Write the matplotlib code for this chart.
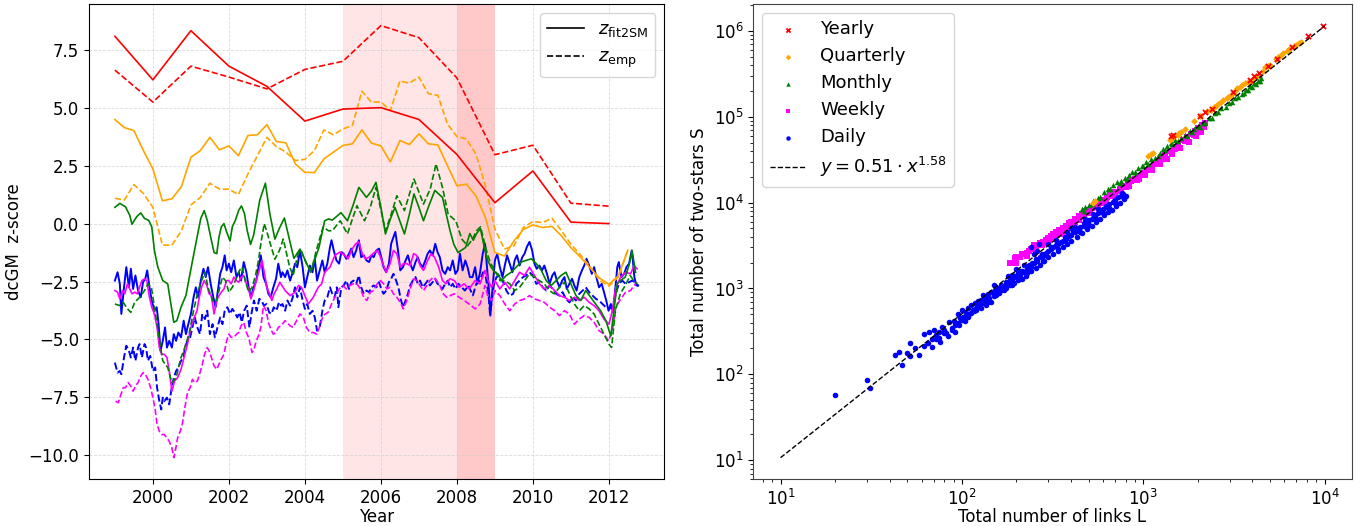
import matplotlib
matplotlib.use('Agg')
import matplotlib.pyplot as plt
from matplotlib.lines import Line2D
import numpy as np

# ---------------- left panel: dcGM z-scores ----------------
yearly_t = [1999, 2000, 2001, 2002, 2003, 2004, 2005, 2006, 2007, 2008, 2009, 2010, 2011, 2012]
yearly_fit = [8.08, 6.20, 8.32, 6.79, 5.92, 4.42, 4.94, 5.00, 4.49, 2.98, 0.90, 2.27, 0.06, 0.00]
yearly_emp = [6.62, 5.24, 6.79, 6.32, 5.81, 6.65, 7.00, 8.54, 8.02, 6.28, 2.97, 3.38, 0.88, 0.75]

quarterly_t = [1999 + 0.25 * i for i in range(55)]
quarterly_fit = [4.49, 4.14, 4.01, 3.15, 2.36, 0.98, 1.07, 1.59, 2.86, 3.15, 3.72, 3.18,
                 3.35, 2.93, 3.80, 3.83, 4.27, 3.54, 3.48, 2.57, 2.21, 2.20, 2.79, 3.08,
                 3.37, 3.44, 4.04, 3.47, 3.35, 2.66, 3.58, 3.41, 3.87, 3.44, 3.39, 2.50,
                 1.63, 1.70, 1.20, 0.26, -1.25, -1.40, -0.75, -0.25, -0.06, -0.17, -0.12, -0.53,
                 -1.04, -1.45, -1.90, -2.35, -2.62, -2.25, -1.15]
quarterly_emp = [1.09, 1.02, 1.68, 1.30, 0.70, -0.93, -0.93, -0.31, 0.80, 1.13, 1.74, 1.49,
                 1.48, 1.25, 2.14, 2.93, 3.72, 3.32, 3.08, 2.72, 2.77, 3.15, 4.04, 3.83,
                 4.08, 4.23, 5.71, 5.24, 5.24, 4.88, 6.15, 6.06, 6.32, 5.60, 5.53, 4.30,
                 3.75, 3.65, 3.00, 1.63, -0.24, -1.10, -0.96, -0.17, 0.09, 0.04, 0.23, -0.31,
                 -0.89, -1.35, -1.85, -2.45, -2.70, -2.30, -1.10]

monthly_t_fit = [1999.00, 1999.13, 1999.28, 1999.39, 1999.45, 1999.57, 1999.68, 1999.78, 1999.89, 1999.97,
                 2000.04, 2000.13, 2000.26, 2000.39, 2000.55, 2000.63, 2000.74, 2000.87, 2000.96, 2001.07,
                 2001.19, 2001.26, 2001.35, 2001.43, 2001.52, 2001.61, 2001.68, 2001.74, 2001.80, 2001.87,
                 2001.94, 2002.03, 2002.09, 2002.17, 2002.26, 2002.33, 2002.41, 2002.48, 2002.57, 2002.65,
                 2002.72, 2002.81, 2002.96, 2003.08, 2003.21, 2003.33, 2003.46, 2003.58, 2003.71, 2003.87,
                 2004.00, 2004.15, 2004.37, 2004.52, 2004.62, 2004.72, 2004.83, 2004.95, 2005.12, 2005.27,
                 2005.42, 2005.62, 2005.75, 2005.87, 2006.00, 2006.12, 2006.25, 2006.37, 2006.50, 2006.62,
                 2006.75, 2006.87, 2007.00, 2007.12, 2007.27, 2007.42, 2007.62, 2007.72, 2007.82, 2007.92,
                 2008.03, 2008.23, 2008.34, 2008.43, 2008.53, 2008.62, 2008.73, 2008.81, 2008.90, 2008.99,
                 2009.08, 2009.17, 2009.30, 2009.43, 2009.56, 2009.69, 2009.82, 2009.96, 2010.09, 2010.22,
                 2010.35, 2010.48, 2010.61, 2010.74, 2010.87, 2011.00, 2011.13, 2011.26, 2011.39, 2011.52,
                 2011.65, 2011.78, 2011.92, 2012.05, 2012.13, 2012.22, 2012.30, 2012.43, 2012.54, 2012.61,
                 2012.70]
monthly_fit = [0.70, 0.87, 0.72, 0.36, -0.03, 0.29, 0.46, 0.22, 0.14, -0.14,
               -1.16, -1.88, -2.46, -2.60, -4.26, -4.19, -3.61, -3.10, -2.31, -1.37,
               -0.36, 0.22, 0.56, 0.14, -0.58, -1.25, -1.30, -0.58, -0.14, 0.00,
               -0.36, -0.75, -0.14, 0.14, 0.58, 0.76, 0.43, -0.29, -0.90, -0.50,
               0.14, 1.00, 1.74, 0.40, -0.67, -0.20, 0.24, -0.60, -1.50, -1.10,
               -1.55, -2.10, -1.03, 0.12, 0.20, 0.15, 0.30, 0.47, 0.12, 0.80,
               1.56, 1.13, 1.40, 1.78, 0.70, -0.45, 0.20, 0.70, 0.10, -0.45,
               0.40, 1.28, 0.70, 0.12, 0.80, 1.43, 1.13, 0.40, -0.31, -0.90,
               -1.25, -1.03, -0.43, -0.72, -0.40, -0.22, -1.10, -1.59, -1.88, -2.10,
               -2.17, -2.46, -2.24, -2.10, -1.88, -1.66, -1.59, -1.52, -1.73, -2.02,
               -2.46, -2.67, -2.46, -2.24, -2.10, -2.60, -3.10, -3.32, -2.89, -3.18,
               -3.47, -3.76, -4.19, -4.85, -3.76, -2.60, -2.46, -2.31, -1.73, -1.16,
               -2.10]

monthly_t_emp = [1999.00, 1999.13, 1999.22, 1999.33, 1999.42, 1999.52, 1999.65, 1999.78, 1999.87, 1999.96,
                 2000.04, 2000.15, 2000.26, 2000.39, 2000.50, 2000.61, 2000.74, 2000.84, 2000.96, 2001.07,
                 2001.17, 2001.28, 2001.37, 2001.45, 2001.57, 2001.65, 2001.74, 2001.83, 2001.91, 2002.00,
                 2002.09, 2002.17, 2002.28, 2002.35, 2002.43, 2002.52, 2002.61, 2002.70, 2002.78, 2002.84,
                 2002.93, 2003.00, 2003.09, 2003.21, 2003.33, 2003.43, 2003.60, 2003.69, 2003.82, 2003.90,
                 2004.04, 2004.17, 2004.30, 2004.48, 2004.62, 2004.72, 2004.93, 2005.12, 2005.25, 2005.37,
                 2005.57, 2005.72, 2005.87, 2006.12, 2006.27, 2006.42, 2006.62, 2006.87, 2007.12, 2007.30,
                 2007.45, 2007.62, 2007.77, 2007.97, 2008.13, 2008.28, 2008.40, 2008.52, 2008.62, 2008.71,
                 2008.80, 2008.89, 2009.00, 2009.13, 2009.26, 2009.39, 2009.52, 2009.65, 2009.78, 2009.91,
                 2010.04, 2010.17, 2010.30, 2010.43, 2010.56, 2010.70, 2010.83, 2010.96, 2011.09, 2011.22,
                 2011.35, 2011.48, 2011.61, 2011.74, 2011.87, 2012.00, 2012.07, 2012.17, 2012.30, 2012.43,
                 2012.56, 2012.65, 2012.74]
monthly_emp = [-3.47, -3.54, -3.40, -3.68, -3.83, -3.40, -3.18, -2.89, -2.60, -2.75,
               -3.61, -4.77, -5.92, -6.21, -6.86, -6.65, -5.78, -5.35, -4.70, -3.76,
               -3.03, -2.46, -2.10, -2.75, -3.32, -3.40, -2.89, -2.31, -2.46, -2.96,
               -2.75, -2.46, -2.02, -1.88, -2.46, -2.96, -2.75, -2.24, -1.59, -0.87,
               0.00, -0.36, -0.87, -1.54, -1.16, -0.67, -1.88, -2.24, -1.30, -1.16,
               -1.73, -2.02, -1.16, -0.14, -0.31, -0.31, 0.12, -0.45, 0.20, 0.77,
               0.12, 0.70, 1.56, -0.31, 0.40, 1.20, 0.56, 1.92, 0.84, 1.50,
               2.57, 1.56, 0.40, 0.12, -0.67, -0.96, -0.70, -0.30, -0.14, -0.72,
               -1.30, -1.73, -2.02, -2.46, -2.46, -2.60, -2.89, -2.75, -2.46, -2.17,
               -2.31, -2.46, -2.60, -2.89, -3.03, -2.75, -2.53, -3.03, -3.47, -3.76,
               -3.54, -3.68, -3.90, -4.34, -4.77, -5.20, -5.35, -3.76, -3.03, -2.67,
               -2.24, -2.46, -2.60]

weekly_t_fit = [1999.00, 1999.07, 1999.13, 1999.20, 1999.26, 1999.33, 1999.39, 1999.45, 1999.52, 1999.59,
                1999.65, 1999.71, 1999.78, 1999.84, 1999.91, 1999.97, 2000.04, 2000.11, 2000.17, 2000.23,
                2000.30, 2000.37, 2000.43, 2000.50, 2000.57, 2000.65, 2000.74, 2000.83, 2000.91, 2001.00,
                2001.09, 2001.16, 2001.22, 2001.28, 2001.35, 2001.42, 2001.48, 2001.54, 2001.61, 2001.68,
                2001.74, 2001.80, 2001.87, 2001.94, 2002.00, 2002.06, 2002.13, 2002.20, 2002.26, 2002.32,
                2002.39, 2002.46, 2002.52, 2002.58, 2002.65, 2002.72, 2002.81, 2002.87, 2002.93, 2003.00,
                2003.07, 2003.13, 2003.19, 2003.26, 2003.34, 2003.48, 2003.61, 2003.74, 2003.83, 2003.91,
                2004.00, 2004.09, 2004.22, 2004.35, 2004.44, 2004.52, 2004.66, 2004.79, 2004.92, 2005.05,
                2005.14, 2005.22, 2005.34, 2005.42, 2005.51, 2005.60, 2005.69, 2005.79, 2005.90, 2005.97,
                2006.05, 2006.14, 2006.24, 2006.33, 2006.42, 2006.51, 2006.59, 2006.68, 2006.77, 2006.86,
                2006.94, 2007.03, 2007.12, 2007.21, 2007.32, 2007.41, 2007.52, 2007.62, 2007.71, 2007.82,
                2007.93, 2008.06, 2008.19, 2008.32, 2008.48, 2008.61, 2008.74, 2008.82, 2008.91, 2009.00,
                2009.13, 2009.26, 2009.39, 2009.52, 2009.65, 2009.78, 2009.91, 2010.04, 2010.17, 2010.30,
                2010.44, 2010.57, 2010.70, 2010.83, 2010.96, 2011.09, 2011.22, 2011.35, 2011.48, 2011.61,
                2011.74, 2011.87, 2012.00, 2012.09, 2012.18, 2012.31, 2012.44, 2012.57, 2012.66, 2012.74]
weekly_fit = [-2.89, -2.96, -3.25, -2.89, -3.03, -2.60, -2.82, -3.03, -2.96, -3.03,
              -2.75, -2.46, -2.38, -2.46, -3.18, -3.61, -3.90, -4.48, -5.35, -5.64,
              -5.64, -5.78, -6.36, -7.23, -6.79, -6.65, -6.29, -5.71, -5.20, -4.48,
              -4.05, -3.76, -3.18, -2.75, -2.46, -2.67, -3.03, -3.11, -3.90, -3.32,
              -3.11, -2.96, -2.82, -2.46, -2.46, -2.60, -2.31, -2.46, -2.53, -2.31,
              -2.24, -2.60, -2.82, -3.25, -2.89, -2.46, -1.95, -1.59, -2.10, -2.75,
              -3.03, -3.32, -3.03, -2.82, -2.53, -2.89, -3.11, -2.96, -2.67, -2.75,
              -3.11, -3.47, -3.18, -2.75, -2.60, -2.10, -1.88, -1.37, -1.23, -1.37,
              -1.52, -1.16, -0.87, -0.79, -1.30, -1.52, -1.45, -1.30, -1.16, -1.37,
              -1.73, -2.10, -1.73, -1.16, -1.30, -1.88, -1.73, -1.73, -1.81, -1.30,
              -1.37, -1.81, -2.02, -1.66, -1.30, -1.45, -1.88, -2.46, -2.60, -2.38,
              -2.46, -2.75, -2.60, -2.82, -2.46, -2.60, -2.02, -2.46, -2.75, -2.46,
              -2.82, -2.53, -2.82, -2.46, -2.10, -2.24, -1.88, -2.24, -2.60, -2.82,
              -2.67, -2.89, -3.11, -3.18, -3.32, -3.18, -3.32, -3.18, -3.40, -3.54,
              -3.76, -4.12, -4.34, -3.76, -2.75, -2.31, -2.10, -2.17, -1.81, -1.95]

weekly_t_emp = [1999.02, 1999.09, 1999.16, 1999.22, 1999.28, 1999.35, 1999.42, 1999.48, 1999.54, 1999.61,
                1999.68, 1999.74, 1999.80, 1999.87, 1999.94, 2000.00, 2000.06, 2000.11, 2000.17, 2000.23,
                2000.30, 2000.37, 2000.43, 2000.50, 2000.55, 2000.58, 2000.65, 2000.72, 2000.78, 2000.84,
                2000.91, 2000.98, 2001.04, 2001.10, 2001.17, 2001.24, 2001.30, 2001.36, 2001.43, 2001.48,
                2001.54, 2001.61, 2001.68, 2001.74, 2001.80, 2001.87, 2001.94, 2002.00, 2002.06, 2002.13,
                2002.20, 2002.26, 2002.32, 2002.39, 2002.46, 2002.52, 2002.61, 2002.65, 2002.72, 2002.78,
                2002.84, 2002.91, 2002.98, 2003.04, 2003.10, 2003.17, 2003.24, 2003.30, 2003.37, 2003.48,
                2003.61, 2003.69, 2003.78, 2003.87, 2003.96, 2004.04, 2004.13, 2004.22, 2004.31, 2004.38,
                2004.48, 2004.61, 2004.70, 2004.79, 2004.90, 2005.00, 2005.09, 2005.18, 2005.27, 2005.37,
                2005.46, 2005.55, 2005.63, 2005.72, 2005.81, 2005.90, 2005.99, 2006.07, 2006.16, 2006.24,
                2006.33, 2006.42, 2006.51, 2006.59, 2006.68, 2006.77, 2006.86, 2006.94, 2007.03, 2007.12,
                2007.21, 2007.29, 2007.38, 2007.47, 2007.55, 2007.64, 2007.73, 2007.82, 2007.93, 2008.06,
                2008.19, 2008.32, 2008.48, 2008.61, 2008.74, 2008.82, 2008.91, 2009.00, 2009.13, 2009.26,
                2009.39, 2009.52, 2009.65, 2009.78, 2009.91, 2010.04, 2010.17, 2010.30, 2010.44, 2010.57,
                2010.70, 2010.83, 2010.96, 2011.09, 2011.22, 2011.35, 2011.48, 2011.61, 2011.74, 2011.87,
                2011.99, 2012.09, 2012.18, 2012.31, 2012.44, 2012.57, 2012.66, 2012.74]
weekly_emp = [-7.66, -7.73, -7.37, -7.08, -7.08, -6.86, -7.01, -7.23, -7.01, -6.86,
              -6.58, -6.43, -6.50, -6.72, -7.08, -7.51, -8.02, -8.67, -8.96, -9.10,
              -9.10, -9.25, -9.39, -9.68, -10.10, -9.90, -9.25, -8.96, -8.60, -7.95,
              -7.30, -7.08, -6.72, -6.86, -6.79, -6.43, -6.07, -5.64, -5.35, -5.49,
              -5.78, -6.14, -6.29, -6.07, -5.85, -5.64, -5.06, -4.77, -4.91, -4.91,
              -4.77, -4.70, -4.41, -4.26, -4.70, -4.91, -5.56, -5.49, -5.06, -4.84,
              -4.48, -3.54, -3.76, -4.26, -4.55, -4.77, -4.70, -4.48, -4.41, -4.19,
              -4.41, -4.48, -4.19, -3.90, -4.05, -4.48, -4.70, -4.70, -4.77, -4.48,
              -3.97, -3.83, -3.47, -3.18, -2.82, -2.67, -2.82, -2.67, -2.60, -2.60,
              -2.82, -3.18, -3.32, -2.96, -2.89, -2.60, -2.46, -2.60, -2.82, -2.75,
              -3.03, -3.18, -3.40, -3.68, -3.32, -2.82, -2.38, -2.46, -2.67, -2.89,
              -2.67, -2.46, -2.31, -2.46, -2.67, -3.03, -3.18, -3.11, -3.03, -3.18,
              -3.32, -3.47, -3.68, -3.47, -2.67, -3.18, -3.32, -2.89, -3.11, -3.47,
              -3.76, -3.47, -3.32, -3.25, -3.11, -3.25, -3.32, -3.40, -3.61, -3.76,
              -3.97, -3.76, -3.90, -4.34, -4.12, -3.97, -4.05, -4.26, -4.62, -4.77,
              -5.06, -4.62, -3.61, -3.25, -2.96, -2.89, -2.67, -2.53]

daily_t_fit = [1999.00, 1999.07, 1999.13, 1999.17, 1999.24, 1999.30, 1999.37, 1999.42, 1999.48, 1999.54,
               1999.61, 1999.68, 1999.74, 1999.80, 1999.85, 1999.91, 1999.97, 2000.04, 2000.10, 2000.15,
               2000.20, 2000.26, 2000.32, 2000.37, 2000.43, 2000.50, 2000.55, 2000.61, 2000.67, 2000.74,
               2000.81, 2000.87, 2000.91, 2001.00, 2001.07, 2001.13, 2001.19, 2001.26, 2001.33, 2001.39,
               2001.45, 2001.52, 2001.59, 2001.65, 2001.71, 2001.77, 2001.83, 2001.89, 2001.94, 2002.00,
               2002.06, 2002.13, 2002.20, 2002.26, 2002.32, 2002.39, 2002.46, 2002.52, 2002.58, 2002.65,
               2002.72, 2002.78, 2002.84, 2002.91, 2002.98, 2003.04, 2003.10, 2003.17, 2003.24, 2003.30,
               2003.37, 2003.41, 2003.48, 2003.54, 2003.61, 2003.68, 2003.74, 2003.80, 2003.87, 2003.94,
               2004.00, 2004.06, 2004.13, 2004.20, 2004.26, 2004.32, 2004.39, 2004.46, 2004.52, 2004.59,
               2004.66, 2004.70, 2004.76, 2004.83, 2004.90, 2004.96, 2005.02, 2005.09, 2005.16, 2005.22,
               2005.28, 2005.35, 2005.42, 2005.48, 2005.55, 2005.62, 2005.69, 2005.75, 2005.81, 2005.88,
               2005.95, 2006.01, 2006.07, 2006.14, 2006.21, 2006.27, 2006.33, 2006.38, 2006.45, 2006.51,
               2006.58, 2006.65, 2006.71, 2006.77, 2006.84, 2006.91, 2006.97, 2007.03, 2007.10, 2007.17,
               2007.23, 2007.29, 2007.36, 2007.43, 2007.49, 2007.55, 2007.62, 2007.69, 2007.76, 2007.82,
               2007.89, 2007.96, 2008.02, 2008.08, 2008.15, 2008.22, 2008.28, 2008.34, 2008.41, 2008.48,
               2008.54, 2008.61, 2008.68, 2008.74, 2008.80, 2008.85, 2008.88, 2008.94, 2009.00, 2009.06,
               2009.13, 2009.20, 2009.26, 2009.32, 2009.39, 2009.46, 2009.52, 2009.58, 2009.65, 2009.72,
               2009.78, 2009.84, 2009.91, 2009.98, 2010.04, 2010.10, 2010.17, 2010.24, 2010.30, 2010.37,
               2010.44, 2010.51, 2010.57, 2010.63, 2010.70, 2010.77, 2010.83, 2010.89, 2010.96, 2011.03,
               2011.09, 2011.15, 2011.22, 2011.29, 2011.35, 2011.41, 2011.48, 2011.55, 2011.61, 2011.67,
               2011.74, 2011.81, 2011.87, 2011.93, 2011.99, 2012.05, 2012.11, 2012.18, 2012.22, 2012.26,
               2012.33, 2012.40, 2012.46, 2012.53, 2012.60, 2012.63, 2012.67, 2012.72, 2012.77]
daily_fit = [-2.46, -2.10, -2.60, -3.90, -2.75, -1.88, -2.75, -1.95, -2.82, -2.24,
             -2.89, -3.18, -2.53, -2.38, -2.02, -2.75, -3.32, -3.76, -3.61, -4.34,
             -5.49, -5.06, -4.48, -5.35, -5.06, -5.35, -4.77, -5.06, -4.70, -4.91,
             -4.19, -4.77, -4.48, -3.90, -3.18, -2.75, -3.18, -2.46, -1.95, -2.31,
             -1.88, -2.60, -3.18, -3.61, -2.89, -2.17, -1.88, -1.37, -2.02, -1.73,
             -2.10, -1.59, -2.31, -2.10, -2.46, -1.66, -2.10, -2.75, -3.18, -2.75,
             -2.46, -1.88, -1.37, -2.31, -2.60, -3.03, -3.18, -2.75, -2.38, -1.73,
             -2.31, -2.10, -2.31, -2.02, -2.46, -2.10, -1.73, -1.88, -1.16, -1.88,
             -2.75, -2.31, -1.81, -2.10, -1.52, -2.46, -2.02, -1.59, -2.10, -1.73,
             -1.01, -0.72, -1.16, -1.59, -1.73, -1.23, -1.30, -1.52, -1.30, -1.08,
             -1.45, -1.16, -0.72, -1.45, -1.37, -1.59, -1.66, -1.37, -1.45, -1.16,
             -1.08, -1.45, -1.88, -2.10, -1.73, -0.87, -0.58, -0.36, -1.16, -2.02,
             -1.88, -1.59, -1.37, -1.73, -2.02, -1.66, -1.45, -1.73, -1.88, -1.59,
             -1.30, -1.16, -1.37, -0.87, -1.23, -1.45, -2.02, -2.17, -1.88, -2.02,
             -1.59, -2.17, -2.02, -1.30, -2.02, -1.59, -1.88, -2.31, -2.31, -1.88,
             -2.60, -2.10, -1.30, -0.87, -2.02, -3.03, -3.97, -2.75, -1.59, -1.30,
             -1.88, -2.31, -1.81, -1.37, -1.73, -2.10, -1.59, -1.37, -1.81, -1.45,
             -1.30, -1.01, -0.79, -1.16, -1.73, -1.95, -1.81, -2.02, -1.81, -2.17,
             -2.60, -2.24, -2.10, -2.46, -2.75, -2.46, -2.31, -2.82, -2.60, -2.38,
             -2.67, -2.89, -2.31, -2.02, -1.81, -1.52, -1.81, -2.17, -1.88, -2.31,
             -2.75, -2.60, -2.96, -3.32, -3.76, -3.47, -3.83, -2.60, -1.88, -1.66,
             -2.31, -2.17, -1.88, -1.73, -1.16, -1.59, -2.31, -2.67, -2.67]

daily_t_emp = [1999.00, 1999.07, 1999.13, 1999.17, 1999.24, 1999.30, 1999.37, 1999.42, 1999.48, 1999.54,
               1999.61, 1999.65, 1999.71, 1999.78, 1999.82, 1999.87, 1999.93, 2000.00, 2000.06, 2000.11,
               2000.17, 2000.22, 2000.26, 2000.30, 2000.37, 2000.43, 2000.48, 2000.55, 2000.61, 2000.67,
               2000.74, 2000.81, 2000.84, 2000.91, 2000.98, 2001.04, 2001.10, 2001.17, 2001.24, 2001.30,
               2001.37, 2001.43, 2001.50, 2001.57, 2001.63, 2001.70, 2001.77, 2001.83, 2001.89, 2001.96,
               2002.03, 2002.09, 2002.15, 2002.22, 2002.28, 2002.34, 2002.40, 2002.47, 2002.54, 2002.60,
               2002.66, 2002.73, 2002.80, 2002.86, 2002.92, 2002.99, 2003.06, 2003.12, 2003.18, 2003.25,
               2003.32, 2003.37, 2003.41, 2003.48, 2003.54, 2003.61, 2003.68, 2003.74, 2003.80, 2003.87,
               2003.94, 2004.00, 2004.06, 2004.13, 2004.20, 2004.26, 2004.32, 2004.39, 2004.46, 2004.52,
               2004.59, 2004.66, 2004.72, 2004.78, 2004.84, 2004.88, 2004.96, 2005.02, 2005.09, 2005.16,
               2005.22, 2005.28, 2005.35, 2005.42, 2005.48, 2005.55, 2005.62, 2005.69, 2005.75, 2005.81,
               2005.88, 2005.95, 2006.01, 2006.07, 2006.14, 2006.21, 2006.27, 2006.33, 2006.40, 2006.46,
               2006.52, 2006.58, 2006.65, 2006.71, 2006.77, 2006.84, 2006.91, 2006.97, 2007.03, 2007.10,
               2007.17, 2007.23, 2007.29, 2007.36, 2007.43, 2007.49, 2007.55, 2007.62, 2007.69, 2007.76,
               2007.82, 2007.89, 2007.96, 2008.04, 2008.13, 2008.21, 2008.30, 2008.36, 2008.42, 2008.51,
               2008.60, 2008.69, 2008.76, 2008.83, 2008.87, 2008.92, 2008.97, 2009.04, 2009.13, 2009.22,
               2009.30, 2009.39, 2009.48, 2009.56, 2009.65, 2009.74, 2009.82, 2009.91, 2010.00, 2010.09,
               2010.17, 2010.26, 2010.35, 2010.44, 2010.52, 2010.61, 2010.70, 2010.78, 2010.87, 2010.96,
               2011.05, 2011.13, 2011.22, 2011.31, 2011.39, 2011.48, 2011.57, 2011.66, 2011.74, 2011.83,
               2011.92, 2012.00, 2012.09, 2012.18, 2012.26, 2012.35, 2012.44, 2012.53, 2012.61, 2012.70,
               2012.77]
daily_emp = [-6.00, -6.43, -6.36, -6.50, -5.78, -5.27, -5.49, -5.78, -5.35, -5.92,
             -5.35, -5.20, -5.78, -5.20, -5.35, -5.92, -5.71, -6.36, -6.21, -7.08,
             -7.66, -8.02, -7.51, -7.66, -7.51, -7.80, -7.23, -6.65, -6.36, -6.21,
             -5.92, -5.78, -5.35, -5.06, -4.91, -4.48, -4.05, -4.48, -4.77, -3.90,
             -4.12, -3.76, -4.77, -4.34, -4.91, -4.48, -4.05, -4.34, -3.76, -3.61,
             -3.90, -3.68, -3.83, -4.05, -3.83, -4.26, -3.76, -3.54, -4.48, -3.83,
             -3.32, -3.76, -3.25, -3.32, -3.54, -3.47, -3.83, -3.90, -3.61, -3.76,
             -3.39, -3.54, -3.47, -3.76, -3.32, -3.54, -3.18, -2.75, -3.18, -2.75,
             -3.32, -3.68, -3.47, -3.90, -3.76, -4.05, -4.62, -4.48, -3.76, -3.32,
             -3.18, -2.75, -3.03, -3.18, -2.75, -3.61, -2.75, -2.67, -2.46, -2.82,
             -2.53, -2.46, -2.60, -2.24, -2.75, -3.03, -2.89, -2.96, -2.75, -2.67,
             -2.75, -2.53, -2.82, -3.03, -2.89, -2.53, -2.38, -2.17, -2.46, -2.75,
             -3.25, -3.61, -3.32, -3.03, -2.67, -2.46, -2.31, -2.60, -2.46, -2.75,
             -2.60, -2.46, -2.67, -2.53, -2.38, -2.60, -2.67, -2.82, -2.60, -2.46,
             -2.75, -2.60, -2.82, -2.60, -2.75, -2.89, -2.67, -2.89, -3.10, -2.60,
             -2.46, -2.10, -2.31, -3.03, -3.90, -3.32, -2.67, -2.31, -2.24, -2.53,
             -2.89, -3.11, -3.03, -2.60, -2.46, -2.31, -2.24, -2.10, -2.24, -2.60,
             -2.53, -2.75, -2.89, -2.67, -2.82, -3.03, -3.11, -2.96, -3.25, -3.40,
             -3.18, -3.32, -3.03, -2.89, -2.75, -2.96, -3.11, -3.25, -3.32, -3.47,
             -3.61, -3.68, -3.61, -3.03, -2.60, -2.46, -2.60, -2.53, -2.46, -2.53,
             -2.71]

# crisis periods shaded
crisis_start, crisis_peak, crisis_end = 2005, 2008, 2009

# ---------------- right panel: two-stars vs links ----------------
yearly_L = [9770, 8150, 6650, 5500, 4890, 4330, 4090, 3870, 3130, 2380, 2180, 2050, 1460, 1430]
yearly_S = [1.15e6, 8.6e5, 6.4e5, 4.7e5, 3.9e5, 3.2e5, 2.95e5, 2.7e5, 1.95e5, 1.24e5, 1.12e5, 1.03e5, 6.2e4, 5.9e4]

quarterly_L = [528, 1064, 1137, 1400, 1480, 1580, 1620, 1700, 1900, 2050, 2250, 2450, 2600, 2750, 2880,
               3050, 3200, 3310, 3500, 3790, 3950, 4200, 4350, 4720, 4990, 5570, 5880, 6210, 6750, 7200, 7400,
               540, 1100, 1450, 1550, 2350, 2530, 2680, 2950, 3120, 3400, 3650, 4100, 4550, 4850, 5400,
               5700, 6400, 6950]
quarterly_S = [9.9e3, 3.5e4, 3.8e4, 5.4e4, 6.0e4, 6.5e4, 6.6e4, 7.1e4, 9.0e4, 1.02e5, 1.15e5, 1.28e5, 1.40e5,
               1.55e5, 1.65e5, 1.80e5, 2.0e5, 2.16e5, 2.35e5, 2.52e5, 2.6e5, 2.9e5, 3.05e5, 3.8e5, 4.0e5,
               4.98e5, 5.45e5, 5.8e5, 6.65e5, 7.15e5, 7.5e5,
               1.05e4, 3.65e4, 5.7e4, 6.2e4, 1.21e5, 1.34e5, 1.47e5, 1.71e5, 1.9e5, 2.22e5, 2.45e5, 2.82e5,
               3.4e5, 3.88e5, 4.7e5, 5.15e5, 6.1e5, 6.9e5]

monthly_L = [460, 480, 500, 530, 560, 605, 640, 680, 720, 753, 790, 830, 870, 938, 980, 1030, 1100, 1167,
             1230, 1290, 1350, 1420, 1500, 1622, 1700, 1810, 1900, 2000, 2133, 2300, 2500, 2700, 2963,
             3200, 3490, 3700, 3897, 4100, 4300, 4467,
             470, 520, 580, 660, 740, 810, 900, 1000, 1060, 1200, 1320, 1450, 1560, 1750, 1850, 2050,
             2200, 2400, 2600, 2850, 3100, 3350, 3600, 3800, 4000, 4200, 4400]
monthly_S = [8400, 8900, 9400, 10300, 11300, 13200, 14500, 16000, 17300, 17700, 19200, 21000, 22500,
             25000, 27000, 29500, 32500, 32800, 38000, 41900, 45000, 49000, 53000, 56500, 61000, 67600,
             72000, 77000, 85000, 96000, 111000, 127000, 146000, 165000, 184000, 205000, 225000, 245000,
             262000, 280000,
             8000, 9500, 11500, 14200, 16800, 19000, 22500, 26500, 28500, 34500, 41000, 47500, 52500,
             60000, 66000, 76000, 84000, 97000, 112000, 128000, 148000, 170000, 188000, 205000, 222000,
             240000, 260000]

weekly_L = [185, 196, 200, 210, 230, 240, 250, 260, 270, 280, 290, 300, 310, 320, 330, 345, 360, 375, 390,
            400, 420, 440, 460, 480, 500, 520, 545, 570, 600, 630, 660, 700, 740, 780, 820, 860, 900, 950,
            1000, 1050, 1100, 1150, 1200, 1260, 1320, 1400, 1480, 1560, 1650, 1740, 1830, 1920, 2010, 2100,
            2200, 350, 420, 500, 600, 700, 800, 950, 1100, 1300, 1500, 1700, 1900, 2150, 250, 300, 230,
            200, 215, 235, 255, 275, 295, 315, 335, 355, 380, 410, 440, 470, 510, 560, 620, 680, 750, 830,
            920, 1020, 1120, 1230, 1350, 1450, 1600, 1780, 1950, 2080]
weekly_S = [2000, 2240, 2000, 2300, 2600, 2900, 2900, 3200, 3400, 3500, 3700, 3900, 4100, 4300, 4500, 4800,
            5100, 5400, 5800, 6000, 6500, 6900, 7400, 7900, 8300, 8700, 9300, 10000, 10800, 11500, 12300,
            13300, 14500, 15500, 16500, 17800, 19000, 20500, 22000, 24000, 26000, 28000, 30500, 33000,
            36000, 40000, 44000, 48000, 53000, 58000, 63000, 68000, 74000, 79000, 85000, 4300, 5900, 7600,
            10000, 12600, 15000, 19000, 24500, 32500, 42000, 52000, 62000, 76000, 3200, 3600, 2400,
            2300, 2500, 2700, 3000, 3200, 3400, 3800, 4200, 4600, 5000, 5700, 6200, 6800, 7600, 8800,
            10400, 12000, 13800, 15800, 18200, 21000, 24000, 28000, 32000, 36500, 43000, 51000, 59000, 66000]

daily_L = [20, 30, 31, 43, 45, 47, 50, 52, 52, 55, 58, 62, 62, 66, 68, 70, 72, 75, 75, 78, 80, 82, 85, 88,
           90, 92, 95, 95, 98, 100, 102, 105, 108, 110, 112, 115, 118, 120, 122, 125, 128, 130, 133, 135,
           140, 142, 145, 150, 152, 155, 160, 165, 170, 175, 180, 185, 190, 195, 200, 205, 210, 215, 220,
           230, 235, 240, 250, 255, 260, 270, 280, 290, 300, 310, 320, 330, 340, 350, 360, 375, 390, 400,
           420, 440, 450, 470, 490, 500, 520, 540, 560, 580, 600, 630, 650, 680, 700, 730, 750, 770, 180,
           150, 130, 200, 250, 300, 220, 260, 330, 380, 400, 340, 280, 230, 190, 160, 140, 450, 500, 550,
           600, 650, 700, 560, 480, 420, 240, 265,
           65, 68, 72, 76, 80, 84, 88, 92, 96, 100, 104, 108, 112, 116, 120, 124, 128, 132, 136, 140,
           145, 150, 155, 160, 165, 170, 175, 185, 195, 205, 215, 225, 240, 255, 270, 285, 300, 320, 340,
           360, 380, 400, 430, 460, 490, 520, 550, 580, 610, 640, 670, 710, 740, 780, 800, 760, 690, 620,
           530, 470, 410, 370, 310, 275, 245, 210, 190]
daily_S = [58, 86, 69, 167, 184, 128, 179, 163, 230, 205, 170, 214, 294, 308, 260, 330, 290, 310, 262, 360,
           330, 300, 410, 350, 420, 380, 500, 400, 450, 560, 470, 520, 600, 500, 640, 560, 680, 600, 720,
           650, 740, 680, 800, 720, 860, 780, 900, 880, 960, 1000, 1000, 1100, 1080, 1200, 1150, 1300, 1250,
           1400, 1350, 1500, 1450, 1600, 1550, 1700, 1900, 1800, 2000, 2200, 2100, 2300, 2400, 2600, 2700,
           2900, 3000, 3200, 3300, 3500, 3600, 3800, 4100, 4200, 4500, 4900, 5200, 5400, 5900, 6200, 6500,
           7000, 7500, 8000, 8500, 9000, 9600, 10200, 10800, 11500, 12000, 12500, 1400, 1100, 850, 1700,
           2500, 3300, 1900, 2700, 3700, 4500, 5000, 2900, 2100, 1500, 1100, 900, 700, 4600, 5500, 6500,
           7600, 8700, 9800, 8400, 6400, 5200, 3000, 3300,
           230, 210, 260, 240, 300, 280, 330, 310, 380, 430, 420, 470, 520, 540, 560, 620, 600, 700, 640,
           760, 700, 820, 850, 880, 950, 950, 1000, 1100, 1150, 1250, 1300, 1400, 1600, 1750, 1900, 2100,
           2300, 2500, 2700, 3000, 3300, 3600, 4000, 4400, 4900, 5400, 5900, 6500, 7100, 7700, 8300, 9200,
           10000, 11000, 11800, 12800, 10500, 9200, 7300, 5800, 4700, 4000, 3000, 2500, 2000, 1600, 1450]

fit_L = [10, 1e4]
fit_S = [10.7, 1.135e6]
fit_label = r'$y = 0.51 \cdot x^{1.58}$'

fig = plt.figure(figsize=(13.65, 5.26), dpi=100)
ax1 = fig.add_axes([0.065, 0.0888, 0.4217, 0.9036])
ax2 = fig.add_axes([0.5519, 0.0888, 0.4384, 0.9036])

# left panel
ax1.axvspan(crisis_start, crisis_end, color='red', alpha=0.1, lw=0, zorder=0)
ax1.axvspan(crisis_peak, crisis_end, color='red', alpha=0.12, lw=0, zorder=0)
ax1.grid(True, color='#cccccc', linestyle='--', linewidth=0.6, alpha=0.7)

series = [
    (daily_t_fit, daily_fit, daily_t_emp, daily_emp, 'blue', 1.4),
    (weekly_t_fit, weekly_fit, weekly_t_emp, weekly_emp, 'magenta', 1.2),
    (monthly_t_fit, monthly_fit, monthly_t_emp, monthly_emp, 'green', 1.2),
    (quarterly_t, quarterly_fit, quarterly_t, quarterly_emp, 'orange', 1.2),
    (yearly_t, yearly_fit, yearly_t, yearly_emp, 'red', 1.2),
]
for tf, vf, te, ve, c, lw in series:
    ax1.plot(tf, vf, color=c, lw=lw, ls='-')
    ax1.plot(te, ve, color=c, lw=lw, ls='--')

handles = [Line2D([], [], color='black', lw=1.2, ls='-'),
           Line2D([], [], color='black', lw=1.2, ls='--')]
ax1.legend(handles, [r'$z_{\rm fit2SM}$', r'$z_{\rm emp}$'], loc='upper right', fontsize=13)
ax1.set_xlabel('Year', fontsize=12, labelpad=1)
ax1.set_ylabel('dcGM  z-score', fontsize=12)
ax1.tick_params(labelsize=12)

# right panel
ax2.scatter(yearly_L, yearly_S, marker='x', color='red', s=14, linewidths=1.3, label='Yearly', zorder=6)
ax2.scatter(quarterly_L, quarterly_S, marker='D', color='orange', s=12, linewidths=0, label='Quarterly', zorder=5)
ax2.scatter(monthly_L, monthly_S, marker='^', color='green', s=16, linewidths=0, label='Monthly', zorder=4)
ax2.scatter(weekly_L, weekly_S, marker='s', color='magenta', s=16, linewidths=0, label='Weekly', zorder=3)
ax2.scatter(daily_L, daily_S, marker='o', color='blue', s=16, linewidths=0, label='Daily', zorder=3.5)
ax2.plot(fit_L, fit_S, 'k--', lw=1.0, label=fit_label, zorder=7)
ax2.set_xscale('log')
ax2.set_yscale('log')
ax2.legend(loc='upper left', fontsize=13, markerscale=0.8)
ax2.set_xlabel('Total number of links L', fontsize=12, labelpad=-1)
ax2.set_ylabel('Total number of two-stars S', fontsize=12)
ax2.tick_params(labelsize=12)
for sp in ax2.spines.values():
    sp.set_color('#444444')

fig.savefig('out.png', dpi=100)
